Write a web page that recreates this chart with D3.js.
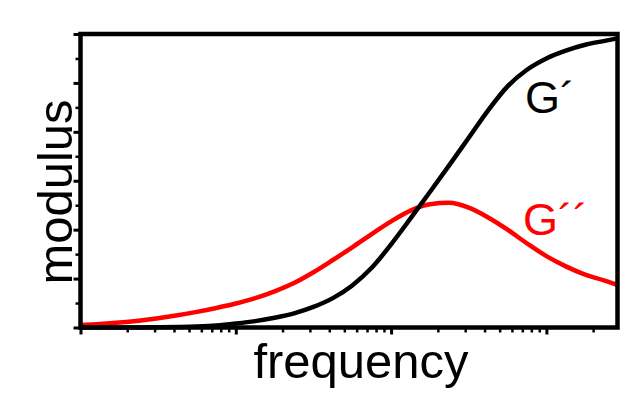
<!DOCTYPE html>
<html>
<head>
<meta charset="utf-8">
<script src="https://cdn.jsdelivr.net/npm/d3@7"></script>
<style>
  html, body { margin: 0; padding: 0; background: #fff; }
  svg { display: block; font-family: "Liberation Sans", Arial, sans-serif; }
</style>
</head>
<body>
<svg id="chart" width="638" height="398"></svg>
<script>
// === DATA ===
const frequencies = [1, 1.334, 1.778, 2.371, 3.162, 4.217, 5.623, 7.499,
  10, 13.34, 17.78, 23.71, 31.62, 42.17, 56.23, 74.99,
  100, 133.4, 177.8, 237.1, 316.2, 421.7, 562.3, 749.9,
  1000, 1334, 1778, 2371, 2870];
// G'
const storageModulus = [0, 0, 0, 0, 0.004, 0.01, 0.02, 0.04,
  0.08, 0.13, 0.2, 0.29, 0.42, 0.6, 0.86, 1.22,
  1.7, 2.23, 2.77, 3.32, 3.88, 4.44, 4.93, 5.27,
  5.5, 5.66, 5.78, 5.86, 5.91];
// G''
const lossModulus = [0.05, 0.07, 0.1, 0.14, 0.19, 0.25, 0.32, 0.4,
  0.49, 0.6, 0.74, 0.91, 1.13, 1.38, 1.64, 1.91,
  2.17, 2.39, 2.52, 2.55, 2.45, 2.25, 2.0, 1.72,
  1.46, 1.25, 1.08, 0.96, 0.87];
const yMajorTicks = [0, 1, 2, 3, 4, 5, 6];
const yMinorTicks = [0.5, 1.5, 2.5, 3.5, 4.5, 5.5];
const xMajorTicks = [1, 10, 100, 1000];

// === CONFIGURATION ===
const plot = { left: 80.5, right: 617.5, top: 34, bottom: 327.5 };
const colors = { storage: "#000000", loss: "#ff0000" };

const svg = d3.select("#chart");

const xScale = d3.scaleLog()
  .domain([1, 2870])
  .range([plot.left, plot.right]);

const yScale = d3.scaleLinear()
  .domain([0, 6])
  .range([plot.bottom, plot.top]);

// minor log ticks (2..9 in each decade)
const xMinorTicks = xScale.ticks().filter(t => !xMajorTicks.includes(t));

// === AXES ===
function styleAxis(g, width) {
  g.select(".domain").remove();
  g.selectAll("text").remove();
  g.selectAll("line").attr("stroke", "#000").attr("stroke-width", width);
}

svg.append("g")
  .attr("transform", `translate(${plot.left},0)`)
  .call(d3.axisLeft(yScale).tickValues(yMajorTicks).tickSize(7).tickSizeOuter(0))
  .call(g => styleAxis(g, 3));

svg.append("g")
  .attr("transform", `translate(${plot.left},0)`)
  .call(d3.axisLeft(yScale).tickValues(yMinorTicks).tickSize(5).tickSizeOuter(0))
  .call(g => styleAxis(g, 2.5));

svg.append("g")
  .attr("transform", `translate(0,${plot.bottom})`)
  .call(d3.axisBottom(xScale).tickValues(xMajorTicks).tickSize(7).tickSizeOuter(0))
  .call(g => styleAxis(g, 3));

svg.append("g")
  .attr("transform", `translate(0,${plot.bottom})`)
  .call(d3.axisBottom(xScale).tickValues(xMinorTicks).tickSize(5).tickSizeOuter(0))
  .call(g => styleAxis(g, 2.5));

// === CURVES ===
const line = values => d3.line()
  .x((d, i) => xScale(frequencies[i]))
  .y(d => yScale(d))
  .curve(d3.curveMonotoneX)(values);

svg.append("path")
  .attr("d", line(lossModulus))
  .attr("fill", "none")
  .attr("stroke", colors.loss)
  .attr("stroke-width", 4.5);

svg.append("path")
  .attr("d", line(storageModulus))
  .attr("fill", "none")
  .attr("stroke", colors.storage)
  .attr("stroke-width", 4.5);

// === FRAME ===
svg.append("rect")
  .attr("x", plot.left)
  .attr("y", plot.top)
  .attr("width", plot.right - plot.left)
  .attr("height", plot.bottom - plot.top)
  .attr("fill", "none")
  .attr("stroke", "#000")
  .attr("stroke-width", 4.5);

// === LABELS ===
svg.append("text")
  .attr("x", 525)
  .attr("y", 113)
  .style("font-size", "45px")
  .attr("fill", colors.storage)
  .text("G´");

svg.append("text")
  .attr("x", 523)
  .attr("y", 235)
  .style("font-size", "45px")
  .attr("fill", colors.loss)
  .text("G´´");

svg.append("text")
  .attr("x", 361)
  .attr("y", 378)
  .attr("text-anchor", "middle")
  .style("font-size", "49px")
  .text("frequency");

svg.append("text")
  .attr("transform", "translate(72,192) rotate(-90)")
  .attr("text-anchor", "middle")
  .style("font-size", "49px")
  .text("modulus");
</script>
</body>
</html>
